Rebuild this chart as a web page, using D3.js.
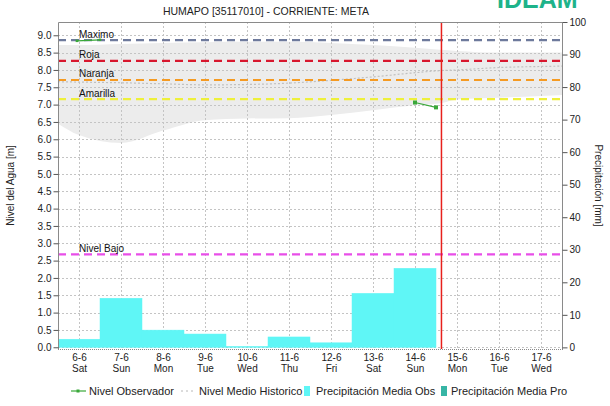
<!DOCTYPE html>
<html>
<head>
<meta charset="utf-8">
<script src="https://cdn.jsdelivr.net/npm/d3@7"></script>
<style>
  html, body { margin: 0; padding: 0; background: #fff; }
  svg { display: block; font-family: "Liberation Sans", Arial, sans-serif; }
</style>
</head>
<body>
<svg id="chart" width="610" height="406"></svg>
<script>
// ---- data ----
const dayLabels = ["6-6","7-6","8-6","9-6","10-6","11-6","12-6","13-6","14-6","15-6","16-6","17-6"];
const weekdays  = ["Sat","Sun","Mon","Tue","Wed","Thu","Fri","Sat","Sun","Mon","Tue","Wed"];

// daily mean precipitation observed [mm], one value per day (from 6-6)
const precipObs = [2.5, 15.1, 5.3, 4.1, 0.3, 3.2, 1.4, 16.6, 24.3];
// forecast precipitation [mm] (none in this period)
const precipPro = [];

// observed water level [m]: day offset from 6-6, level
const obsDays   = [8.0, 8.5];
const obsLevels = [7.06, 6.92];
const obsDays0   = [-0.05, 0.5];
const obsLevels0 = [8.84, 8.87];

// historic range (band) and historic mean level [m]
const histDays  = [-0.5, 0, 1, 2, 3, 4, 5, 6, 7, 8, 8.6, 9, 10, 11, 11.5];
const histLow   = [6.45, 6.12, 5.89, 6.25, 6.55, 6.6, 6.61, 6.7, 6.84, 6.98, 7.04, 7.15, 7.2, 7.25, 7.28];
const histHigh  = [8.72, 8.72, 8.75, 8.78, 8.8, 8.81, 8.81, 8.78, 8.72, 8.64, 8.58, 8.55, 8.5, 8.5, 8.5];
const histMean  = [7.66, 7.65, 7.63, 7.6, 7.57, 7.58, 7.62, 7.7, 7.8, 7.92, 7.98, 8.0, 8.07, 8.1, 8.11];

// alert thresholds [m]
const thresholdNames  = ["Maximo", "Roja", "Naranja", "Amarilla", "Nivel Bajo"];
const thresholdLevels = [8.86, 8.26, 7.71, 7.16, 2.68];
const thresholdColors = ["#6e7a9c", "#d8172e", "#f59a22", "#eef03a", "#e84ee8"];

// current time marker (day offset)
const nowDay = 8.63;

// axis ticks
const levelTicks  = d3.range(0, 9.001, 0.5);
const precipTicks = d3.range(0, 100.001, 10);

// ---- layout ----
const svg = d3.select("#chart");
const L = 58, R = 562, T = 22, B = 349;

const x  = d3.scaleLinear().domain([-0.5, 11.5]).range([L, R]);
const yL = d3.scaleLinear().domain([-0.05, 9.383]).range([B, T]);
const yR = d3.scaleLinear().domain([-0.5, 100]).range([B, T]);

svg.append("defs").append("clipPath").attr("id", "plotClip")
  .append("rect").attr("x", L).attr("y", T).attr("width", R - L).attr("height", B - T);

const plot = svg.append("g").attr("clip-path", "url(#plotClip)");

// historic band
const hist = histDays.map((d, i) => ({ d, lo: histLow[i], hi: histHigh[i], m: histMean[i] }));
plot.append("path").datum(hist)
  .attr("fill", "#ececec")
  .attr("d", d3.area().curve(d3.curveMonotoneX)
    .x(p => x(p.d)).y0(p => yL(p.lo)).y1(p => yL(p.hi)));

// grid
plot.append("g").selectAll("line").data(levelTicks).join("line")
  .attr("x1", L).attr("x2", R)
  .attr("y1", d => Math.round(yL(d)) + 0.5).attr("y2", d => Math.round(yL(d)) + 0.5)
  .attr("stroke", "#c4c4c4").attr("stroke-dasharray", "2,2");
plot.append("g").selectAll("line").data(dayLabels).join("line")
  .attr("x1", (d, i) => Math.round(x(i)) + 0.5).attr("x2", (d, i) => Math.round(x(i)) + 0.5)
  .attr("y1", T).attr("y2", B)
  .attr("stroke", "#c4c4c4").attr("stroke-dasharray", "2,2");

// historic mean (dotted)
plot.append("path").datum(hist)
  .attr("fill", "none").attr("stroke", "#c0c0c0").attr("stroke-width", 1.2)
  .attr("stroke-dasharray", "2,2")
  .attr("d", d3.line().curve(d3.curveMonotoneX).x(p => x(p.d)).y(p => yL(p.m)));

// precipitation bars
plot.append("g").selectAll("rect").data(precipObs).join("rect")
  .attr("x", (v, i) => x(i - 0.5))
  .attr("width", (v, i) => x(i + 0.5) - x(i - 0.5))
  .attr("y", v => yR(v))
  .attr("height", v => yR(0) - yR(v))
  .attr("fill", "#5ff6f6")
  .attr("stroke", "#5ff6f6").attr("stroke-width", 0.5);
plot.append("g").selectAll("rect").data(precipPro).join("rect")
  .attr("x", (v, i) => x(i + 8.5))
  .attr("width", x(1) - x(0))
  .attr("y", v => yR(v))
  .attr("height", v => yR(0) - yR(v))
  .attr("fill", "#37b5a5");

// thresholds
const thr = thresholdNames.map((n, i) => ({ n, v: thresholdLevels[i], c: thresholdColors[i] }));
plot.append("g").selectAll("line").data(thr).join("line")
  .attr("x1", L).attr("x2", R)
  .attr("y1", d => yL(d.v)).attr("y2", d => yL(d.v))
  .attr("stroke", d => d.c).attr("stroke-width", 2.2)
  .attr("stroke-dasharray", "8,5");

// observed level
function drawObs(days, levels, markerSize) {
  const pts = days.map((d, i) => [x(d), yL(levels[i])]);
  plot.append("path").datum(pts)
    .attr("fill", "none").attr("stroke", "#3aa83a").attr("stroke-width", 1.2)
    .attr("d", d3.line());
  plot.append("g").selectAll("rect").data(pts).join("rect")
    .attr("x", p => p[0] - markerSize / 2).attr("y", p => p[1] - markerSize / 2)
    .attr("width", markerSize).attr("height", markerSize).attr("fill", "#3aa83a");
}
drawObs(obsDays0, obsLevels0, 2.5);

// threshold labels
svg.append("g").selectAll("text").data(thr).join("text")
  .attr("x", x(0)).attr("y", d => yL(d.v) - 2.5)
  .attr("font-size", 10).attr("fill", "#111")
  .text(d => d.n);

drawObs(obsDays, obsLevels, 4);

// current time marker
svg.append("line")
  .attr("x1", x(nowDay)).attr("x2", x(nowDay))
  .attr("y1", T).attr("y2", B)
  .attr("stroke", "#e8201c").attr("stroke-width", 1.5);

// frame
svg.append("path")
  .attr("d", `M${L + 0.5},${B} V${T + 0.5} H${R + 0.5} V${B}`)
  .attr("fill", "none").attr("stroke", "#8a8a8a");
svg.append("line").attr("x1", L).attr("x2", R + 1)
  .attr("y1", B + 0.5).attr("y2", B + 0.5)
  .attr("stroke", "#8a8a8a").attr("stroke-dasharray", "1,1");

// left axis
const axL = svg.append("g").attr("transform", `translate(${L + 0.5},0)`)
  .call(d3.axisLeft(yL).tickValues(levelTicks).tickFormat(d3.format(".1f")).tickSize(5).tickPadding(2));
// right axis
const axR = svg.append("g").attr("transform", `translate(${R + 0.5},0)`)
  .call(d3.axisRight(yR).tickValues(precipTicks).tickSize(5).tickPadding(2));
[axL, axR].forEach(a => {
  a.select(".domain").remove();
  a.selectAll(".tick line").attr("stroke", "#555");
  a.selectAll("text").attr("font-size", 10).attr("fill", "#222")
    .attr("font-family", "'Liberation Sans', Arial, sans-serif");
});

// bottom axis labels (date + weekday)
const axB = svg.append("g").attr("transform", `translate(0,${B})`)
  .call(d3.axisBottom(x).tickValues(d3.range(0, 12)).tickSize(0).tickFormat(""));
axB.select(".domain").remove();
axB.selectAll(".tick").append("text")
  .attr("text-anchor", "middle").attr("font-size", 10).attr("fill", "#222")
  .attr("font-family", "'Liberation Sans', Arial, sans-serif")
  .each(function(d) {
    const t = d3.select(this);
    t.append("tspan").attr("x", 0).attr("y", 11.5).text(dayLabels[d]);
    t.append("tspan").attr("x", 0).attr("y", 23).text(weekdays[d]);
  });

// axis titles
svg.append("text")
  .attr("transform", `translate(14,${(T + B) / 2}) rotate(-90)`)
  .attr("text-anchor", "middle").attr("font-size", 10).attr("fill", "#222")
  .text("Nivel del Agua [m]");
svg.append("text")
  .attr("transform", `translate(595,${(T + B) / 2}) rotate(90)`)
  .attr("text-anchor", "middle").attr("font-size", 10).attr("fill", "#222")
  .text("Precipitación [mm]");

// title
svg.append("text")
  .attr("x", 266).attr("y", 15)
  .attr("text-anchor", "middle").attr("font-size", 10.5).attr("fill", "#222")
  .text("HUMAPO [35117010] - CORRIENTE: META");

// logo (top of the letters runs past the page edge)
svg.append("text")
  .attr("x", 497).attr("y", 8)
  .attr("font-size", 25).attr("font-weight", "bold").attr("fill", "#1eb38a")
  .text("IDEAM");

// legend
const lg = svg.append("g").attr("font-size", 11).attr("fill", "#222");
const ly = 391;
lg.append("line").attr("x1", 71).attr("x2", 86).attr("y1", ly).attr("y2", ly)
  .attr("stroke", "#3aa83a").attr("stroke-width", 1.2);
lg.append("rect").attr("x", 76.5).attr("y", ly - 1.5).attr("width", 3).attr("height", 3).attr("fill", "#3aa83a");
lg.append("text").attr("x", 89).attr("y", ly + 4).text("Nivel Observador");
lg.append("line").attr("x1", 181).attr("x2", 196).attr("y1", ly).attr("y2", ly)
  .attr("stroke", "#b8b8b8").attr("stroke-dasharray", "2,3");
lg.append("text").attr("x", 199).attr("y", ly + 4).text("Nivel Medio Historico");
lg.append("rect").attr("x", 304).attr("y", ly - 5).attr("width", 6).attr("height", 10).attr("fill", "#5ff6f6");
lg.append("text").attr("x", 316).attr("y", ly + 4).text("Precipitación Media Obs");
lg.append("rect").attr("x", 441).attr("y", ly - 5).attr("width", 6).attr("height", 10).attr("fill", "#37b5a5");
lg.append("text").attr("x", 451).attr("y", ly + 4).text("Precipitación Media Pro");
</script>
</body>
</html>
